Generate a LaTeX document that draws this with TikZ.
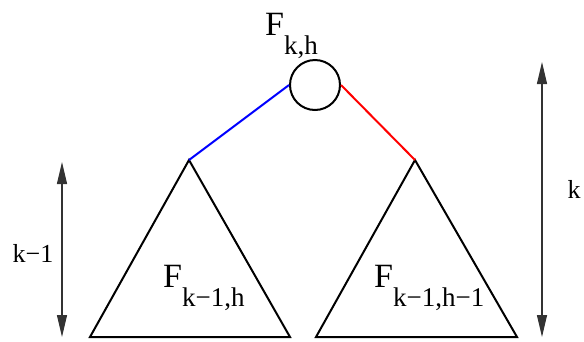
\documentclass[tikz,border=0pt]{standalone}
\usepackage{fontspec}
\setmainfont{Liberation Serif}
\newfontfamily\tms{Liberation Serif}
\usetikzlibrary{arrows.meta}
\newcommand{\fname}[1]{F\raisebox{-19pt}{\fontsize{27}{30}\selectfont #1}}

\begin{document}
\begin{tikzpicture}[
    x=1pt, y=-1pt,
    fnode/.style={draw, circle, line width=2pt, minimum size=50pt, inner sep=0pt},
    flabel/.style={anchor=base west, inner sep=0pt, font=\tms\fontsize{34}{40}\selectfont},
    dlabel/.style={inner sep=0pt, font=\tms\fontsize{26}{30}\selectfont},
    tree/.style={line width=2pt, line join=miter},
    dim/.style={{Triangle[length=22pt,width=10pt]}-{Triangle[length=22pt,width=10pt]}, line width=1.2pt, black!80},
  ]
  \useasboundingbox (0,0) rectangle (584,341);
  % root and its two subtrees
  \node[fnode] (root) at (315,85) {};
  \coordinate (lapex) at (189,160);
  \coordinate (lbl) at (90,337);
  \coordinate (lbr) at (290,337);
  \coordinate (rapex) at (415,160);
  \coordinate (rbl) at (316,337);
  \coordinate (rbr) at (517,337);
  \draw[tree] (lapex) -- (lbl) -- (lbr) -- cycle;
  \draw[tree] (rapex) -- (rbl) -- (rbr) -- cycle;
  \draw[line width=2pt, blue] (root.west) -- (lapex);
  \draw[line width=2pt, red] (root.east) -- (rapex);
  % labels
  \node[flabel] (ftop) at (265,35) {\fname{k,h}};
  \node[flabel] (fleft) at (163,287) {\fname{k\char"2212 1,h}};
  \node[flabel] (fright) at (374,287) {\fname{k\char"2212 1,h\char"2212 1}};
  % heights
  \coordinate (ltop) at (62,162);
  \coordinate (lbot) at (62,337);
  \coordinate (rtop) at (542,62);
  \coordinate (rbot) at (542,337);
  \draw[dim] (ltop) -- (lbot);
  \draw[dim] (rtop) -- (rbot);
  \node[dlabel, anchor=base] (hleft) at (33,262) {k\char"2212 1};
  \node[dlabel, anchor=base] (hright) at (574,198) {k};
\end{tikzpicture}
\end{document}
